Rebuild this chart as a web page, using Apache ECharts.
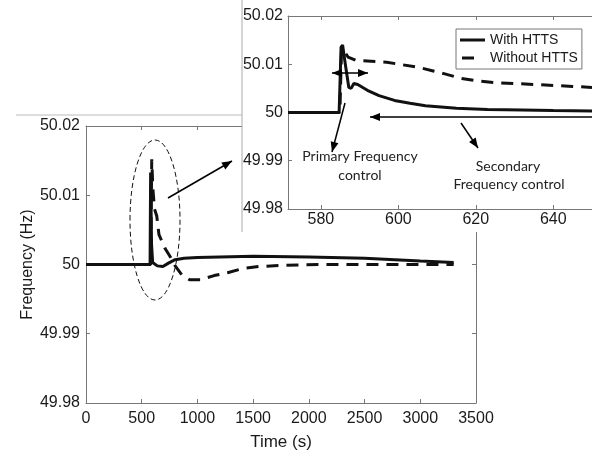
<!DOCTYPE html>
<html>
<head>
<meta charset="utf-8">
<script src="https://cdn.jsdelivr.net/npm/echarts@6/dist/echarts.min.js"></script>
<style>
html,body{margin:0;padding:0;background:#fff;}
#chart{width:592px;height:456px;}
</style>
</head>
<body>
<div id="chart"></div>
<script>
// ---- Main chart data (time in s, frequency in Hz) ----
const mainTimeWith = [0, 575, 580, 588, 598, 640, 690, 740, 800, 880, 1000, 1500, 2000, 2500, 3000, 3300];
const mainFreqWith = [50, 50, 50.0133, 50.003, 50.0003, 49.9998, 49.9997, 50.0002, 50.0007, 50.0009, 50.001, 50.0012, 50.0011, 50.0009, 50.0005, 50.0003];
const mainTimeWithout = [0, 580, 590, 600, 615, 635, 655, 710, 760, 800, 860, 930, 1030, 1150, 1270, 1400, 1550, 1800, 2100, 3300];
const mainFreqWithout = [50, 50, 50.0152, 50.011, 50.008, 50.007, 50.0043, 50.0023, 50.001, 49.9998, 49.9985, 49.9978, 49.9978, 49.9984, 49.9988, 49.9994, 49.9997, 49.9999, 50, 50];

// ---- Inset (zoom) data ----
const insetTimeWith = [571.5, 584.7, 585.2, 585.6, 586.3, 587.2, 587.8, 588.5, 589.5, 592, 595, 599, 603, 607, 615, 623, 632, 640, 650];
const insetFreqWith = [50, 50, 50.0135, 50.014, 50.010, 50.0052, 50.005, 50.006, 50.0058, 50.0046, 50.0035, 50.0025, 50.0019, 50.0014, 50.0009, 50.0006, 50.0005, 50.0004, 50.0003];
const insetTimeWithout = [571.5, 584.9, 585.3, 585.8, 587, 589, 593, 597, 601, 605, 609, 612, 616, 620, 625, 630, 638, 645, 650];
const insetFreqWithout = [50, 50, 50.0125, 50.013, 50.0115, 50.0108, 50.0106, 50.0104, 50.0099, 50.0094, 50.0086, 50.008, 50.0071, 50.0066, 50.0062, 50.006, 50.0057, 50.0054, 50.0052];

// ---- Axis ticks ----
const mainXTicks = [0, 500, 1000, 1500, 2000, 2500, 3000, 3500];
const freqTicks = [49.98, 49.99, 50, 50.01, 50.02];
const insetXTicks = [580, 600, 620, 640];

const seriesNames = ['With HTTS', 'Without HTTS'];

function pairs(t, f) { return t.map((v, i) => [v, f[i]]); }
const fmtY = v => String(+(+v).toFixed(2));
const fmtX = v => String(Math.round(v));

const LABEL_FONT = "'Liberation Sans', Arial, sans-serif";
const AX_COL = '#777';
const TXT_COL = '#1a1a1a';

function boxAxis(gridIndex, pos, min, max, interval, z, custom) {
  const a = {
    type: 'value', gridIndex, position: pos, min, max,
    z,
    axisLine: { show: true, onZero: false, lineStyle: { color: AX_COL, width: 1 } },
    axisTick: { show: true, inside: true, length: 4, lineStyle: { color: AX_COL } },
    axisLabel: { show: false },
    splitLine: { show: false }
  };
  if (interval) a.interval = interval;
  if (custom) { a.axisTick.customValues = custom; a.axisLabel.customValues = custom; }
  return a;
}

const chart = echarts.init(document.getElementById('chart'), null, { renderer: 'canvas' });

// main bottom x axis
const xMain = boxAxis(0, 'bottom', 0, 3500, 500, 0);
xMain.axisLabel = { show: true, margin: 8, fontSize: 16, fontFamily: LABEL_FONT, color: TXT_COL, formatter: fmtX };
xMain.name = 'Time (s)';
xMain.nameLocation = 'middle';
xMain.nameGap = 31;
xMain.nameMoveOverlap = false;
xMain.nameTextStyle = { fontSize: 17, fontFamily: LABEL_FONT, color: TXT_COL, verticalAlign: 'top' };
const xMainTop = boxAxis(0, 'top', 0, 3500, 500, 0);

const yMain = boxAxis(0, 'left', 49.98, 50.02, 0.01, 0);
yMain.axisLabel = { show: true, margin: 6, fontSize: 16, fontFamily: LABEL_FONT, color: TXT_COL, formatter: fmtY };
yMain.name = 'Frequency (Hz)';
yMain.nameLocation = 'middle';
yMain.nameGap = 50;
yMain.nameMoveOverlap = false;
yMain.nameTextStyle = { fontSize: 16, fontFamily: LABEL_FONT, color: TXT_COL };
const yMainRight = boxAxis(0, 'right', 49.98, 50.02, 0.01, 0);

// inset axes
const xInset = boxAxis(1, 'bottom', 571.5, 650, null, 10, insetXTicks);
xInset.axisLabel = { show: true, margin: 3, fontSize: 16, fontFamily: LABEL_FONT, color: TXT_COL, customValues: insetXTicks, formatter: fmtX };
const xInsetTop = boxAxis(1, 'top', 571.5, 650, null, 10, insetXTicks);
const yInset = boxAxis(1, 'left', 49.98, 50.02, 0.01, 10);
yInset.axisLabel = { show: true, margin: 5, fontSize: 16, fontFamily: LABEL_FONT, color: TXT_COL, formatter: fmtY };

function lineSeries(name, data, xi, yi, dashed, z) {
  return {
    type: 'line', name, data, xAxisIndex: xi, yAxisIndex: yi,
    showSymbol: false, symbol: 'none', z, silent: true, clip: true,
    lineStyle: { color: '#111', width: 3, type: dashed ? [12, 8] : 'solid', cap: 'butt' },
    itemStyle: { color: '#111' }
  };
}

// legend icons: a 25x14 box holding a 3px-thick bar (tiny corner marks keep the box size)
const corners = 'M0,0L0.01,0L0,0.01Z M25,14L24.99,14L25,13.99Z ';
const solidIcon = 'path://' + corners + 'M0,5.5H25V8.5H0Z';
const dashIcon = 'path://' + corners + 'M2,5.5H14V8.5H2Z';

// annotation helpers
function arrow(x1, y1, x2, y2, both, lw) {
  const els = [];
  lw = lw || 1.5;
  els.push({ type: 'line', z: 40, shape: { x1, y1, x2, y2 }, style: { stroke: '#000', lineWidth: lw } });
  const head = (tx, ty, fx, fy) => {
    const dx = tx - fx, dy = ty - fy, L = Math.hypot(dx, dy);
    const ux = dx / L, uy = dy / L, len = 10, w = 4;
    const bx = tx - ux * len, by = ty - uy * len;
    return { type: 'polygon', z: 41, shape: { points: [[tx, ty], [bx - uy * w, by + ux * w], [bx + uy * w, by - ux * w]] }, style: { fill: '#000' } };
  };
  els.push(head(x2, y2, x1, y1));
  if (both) els.push(head(x1, y1, x2, y2));
  return els;
}
function label(text, x, y) {
  return { type: 'text', z: 42, x, y, style: { text, font: '14px Lato', fill: '#222', align: 'center', verticalAlign: 'middle', textAlign: 'center', textVerticalAlign: 'middle' } };
}

const graphics = [
  { type: 'line', z: 1, shape: { x1: 16, y1: 115, x2: 242, y2: 115 }, style: { stroke: '#bbb', lineWidth: 1 } },
  { type: 'rect', z: 5, shape: { x: 242, y: 0, width: 360, height: 232 }, style: { fill: '#fff' } },
  { type: 'line', z: 6, shape: { x1: 242, y1: 0, x2: 242, y2: 232 }, style: { stroke: '#aaa', lineWidth: 1 } },
  { type: 'ellipse', z: 8, shape: { cx: 155, cy: 220, rx: 25, ry: 80 }, style: { fill: null, stroke: '#111', lineWidth: 1, lineDash: [5, 3] } },
  ...arrow(168, 198, 232, 161, false, 1.5),
  ...arrow(332, 73, 368, 73, true, 1.5),
  ...arrow(345, 103, 332, 152, false, 1.5),
  ...arrow(592, 117, 370, 117, false, 1.5),
  ...arrow(461, 123, 478, 148, false, 1.5),
  label('Primary Frequency', 360, 156),
  label('control', 360, 175),
  label('Secondary', 508, 166),
  label('Frequency control', 509, 184)
];

chart.setOption({
  animation: false,
  backgroundColor: '#fff',
  grid: [
    { left: 86, top: 126, width: 390, height: 277, containLabel: false },
    { left: 288, top: 16, width: 315, height: 193, containLabel: false }
  ],
  xAxis: [xMain, xMainTop, xInset, xInsetTop],
  yAxis: [yMain, yMainRight, yInset],
  legend: {
    data: [
      { name: seriesNames[0], icon: solidIcon },
      { name: seriesNames[1], icon: dashIcon }
    ],
    orient: 'vertical',
    left: 456, top: 29,
    padding: [4, 4, 4, 4],
    itemGap: 4,
    itemWidth: 25,
    itemHeight: 14,
    backgroundColor: '#fff',
    borderColor: '#777',
    borderWidth: 1,
    borderRadius: 0,
    z: 30,
    selectedMode: false,
    itemStyle: { color: '#111', borderWidth: 0 },
    textStyle: { fontSize: 14, fontFamily: LABEL_FONT, color: TXT_COL }
  },
  series: [
    lineSeries(seriesNames[0], pairs(mainTimeWith, mainFreqWith), 0, 0, false, 2),
    lineSeries(seriesNames[1], pairs(mainTimeWithout, mainFreqWithout), 0, 0, true, 2),
    lineSeries(seriesNames[0], pairs(insetTimeWith, insetFreqWith), 2, 2, false, 12),
    lineSeries(seriesNames[1], pairs(insetTimeWithout, insetFreqWithout), 2, 2, true, 12)
  ],
  graphic: graphics
});
</script>
</body>
</html>
